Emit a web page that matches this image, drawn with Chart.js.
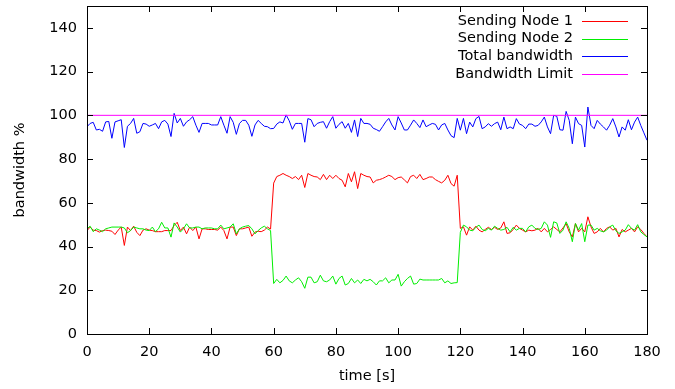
<!DOCTYPE html>
<html>
<head>
<meta charset="utf-8">
<script src="https://cdn.jsdelivr.net/npm/chart.js@4.4.1/dist/chart.umd.min.js"></script>
<style>
  html, body { margin: 0; padding: 0; background: #fff; }
  #c { display: block; }
</style>
</head>
<body>
<canvas id="c" width="675" height="389"></canvas>
<script>
// time in seconds (one sample per second)
const times = Array.from({ length: 181 }, (_, i) => i);

const seriesNames = ['Sending Node 1', 'Sending Node 2', 'Total bandwidth', 'Bandwidth Limit'];

const node1 = [
  47.3, 48.9, 47.5, 47.3, 46.6, 47.3, 47.5, 47.3, 47, 45.5,
  47.5, 48.9, 40.5, 48.9, 47.3, 49.3, 46.5, 45, 47.5, 48.1,
  47.5, 47.3, 46.8, 46.8, 46.8, 47.3, 47.3, 47.3, 49.6, 51.1,
  47.3, 48.9, 45.8, 48.9, 47.3, 48.9, 43.5, 48.1, 48.1, 47.8,
  47.8, 47.8, 47.5, 48.9, 47.3, 43.5, 48.9, 48.9, 45, 48.1,
  48.1, 48.5, 48.9, 44.7, 46.6, 47, 46.8, 47.5, 48.9, 48,
  69, 72, 72.6, 73.4, 72.6, 72, 71.1, 72, 70.6, 72.6,
  67, 73.4, 72.6, 72, 71.8, 70.6, 73, 70.6, 72.6, 71.1,
  72.6, 71.1, 70.3, 67.3, 73.4, 69.6, 74.2, 66.5, 73.4, 72.6,
  72, 71.8, 69.1, 70.3, 70.6, 71.1, 71.8, 72.6, 72, 70.6,
  71.5, 71.8, 70.5, 69.1, 72, 72.6, 71.1, 73, 70.6, 71.1,
  71.8, 71.8, 70.6, 69.8, 69.1, 70.3, 72.6, 68.8, 67.6, 72.6,
  48.3, 49, 45.2, 49, 47.5, 49.3, 47.5, 46.7, 47.8, 48.8,
  47.8, 48.8, 47.8, 48.5, 51.3, 46, 46.3, 47.8, 49.8, 48.3,
  47.5, 46.7, 47.5, 47.2, 47.5, 48.3, 46.7, 48.3, 46.7, 47.8,
  49, 47.8, 46.7, 48.5, 50.5, 46.7, 44.4, 50.5, 46.7, 48.3,
  46.7, 53.6, 49, 46, 46.7, 48.3, 46.7, 48.3, 49, 47.5,
  48.3, 44.4, 47.8, 46.7, 47.5, 48.3, 46.7, 49, 47.8, 46,
  44.4
];

const node2 = [
  48.1, 49.3, 46.8, 48.1, 47.5, 46.8, 48.1, 48.5, 48.9, 48.9,
  48.9, 48.9, 48.5, 46.3, 47.3, 48.9, 48.5, 48.1, 48.1, 47.5,
  47.3, 48.9, 46.8, 48.1, 51.1, 48.5, 48.5, 44.3, 50.8, 48.9,
  46.6, 48.1, 50.4, 48.5, 48.5, 48.9, 48.9, 48.1, 48.5, 48.5,
  48.5, 48.1, 48.1, 49.8, 48.1, 48.5, 48.9, 50.4, 45.8, 48.1,
  48.9, 49.3, 49.6, 48.1, 45.8, 47.3, 48.5, 49.3, 48.1, 47.3,
  23.1, 25, 23.4, 24.5, 26.5, 24.3, 23.4, 24.7, 25.7, 23.9,
  20.9, 26, 26, 23.4, 23.9, 26.9, 24.3, 23.9, 24.7, 26.5,
  22.8, 25.4, 26.5, 22.4, 23.1, 25.4, 23.4, 24.7, 23.1, 25,
  24.3, 25, 23.9, 22.4, 24.3, 24.3, 25.7, 23.4, 24.7, 24.7,
  27.3, 21.9, 23.9, 25.4, 26.5, 22.8, 23.1, 25.1, 24.7, 24.7,
  24.7, 24.7, 24.7, 24.7, 25.4, 23.4, 24.3, 23.1, 23.4, 23.5,
  46.5, 49.8, 49, 47.5, 47.2, 48.8, 49.8, 47.8, 47.2, 48.3,
  47.5, 49.3, 48.3, 47.5, 47.8, 48.8, 46.7, 48.8, 47.5, 48.3,
  48.3, 46.7, 49, 49.8, 48.3, 47.8, 48.3, 51.3, 49.8, 44.2,
  51.3, 50.8, 46, 47.5, 51.3, 48.3, 42.2, 50.5, 47.5, 50.5,
  42.2, 49.8, 49.8, 47.5, 48.3, 47.2, 46.7, 47.5, 49, 49.8,
  47.2, 46, 46.7, 47.5, 50, 48.3, 47.5, 50, 46.7, 45.5,
  44.4
];

const total = [
  94.8, 96.3, 96.8, 93.3, 93.6, 92.7, 97, 97.2, 89.5, 97,
  97.5, 98, 85.3, 95, 96.3, 98.6, 91.8, 92.5, 96.3, 96,
  95, 95.6, 96.3, 93.9, 97, 97.7, 96, 90.3, 100.9, 96.5,
  98.6, 95, 97, 98, 99.4, 95.5, 92.2, 96.3, 96.3, 96.3,
  95.6, 95.6, 95.6, 99.4, 95.5, 91.8, 99.4, 96.8, 91.3, 96.3,
  97.7, 97.7, 95.5, 90.4, 95.6, 97.7, 96.3, 95, 94.8, 93.9,
  94, 96, 97, 96.5, 100.2, 97.5, 93.6, 96.3, 96.3, 96.3,
  87.7, 98.5, 98, 94.8, 96.3, 96.8, 97.1, 94.1, 97.1, 99.4,
  94.1, 95.9, 97.1, 94.1, 96.3, 92.2, 97.9, 90.3, 98.6, 96.3,
  96.3, 95.9, 94.1, 93.5, 92.7, 94.8, 97, 98.6, 95.6, 93.3,
  99.4, 96.5, 93.3, 93.3, 95.5, 97.9, 96.3, 94.4, 97.9, 94.8,
  95.6, 96.3, 95.9, 93.3, 95.6, 96.3, 93.3, 90.7, 89.8, 98.6,
  93.2, 98.6, 91.6, 96.9, 94.7, 98.5, 99.5, 93.9, 94.7, 96.2,
  95, 96.2, 96.9, 93.4, 99.2, 93.9, 94.7, 93.9, 98.5, 96,
  95.4, 93.9, 96, 96, 95, 95.4, 97, 99.2, 94.7, 91.6,
  100, 99.6, 93.4, 93.2, 101.8, 97.7, 87, 99.2, 96.2, 95.4,
  85.5, 103.8, 95.4, 93.9, 97.7, 96, 94.7, 93.2, 95.5, 98.5,
  94.7, 90.1, 94.7, 93.2, 98, 93.4, 96.9, 99.2, 95.4, 92,
  88.6
];

const limitTimes = [0, 180];
const limitValues = [100, 100];

const xTicks = [0, 20, 40, 60, 80, 100, 120, 140, 160, 180];
const yTicks = [0, 20, 40, 60, 80, 100, 120, 140];

const colors = ['#ff0000', '#00ee00', '#0000ff', '#ff00ff'];
const FONT = 'DejaVu Sans';

function pts(xs, ys) { return ys.map((v, i) => ({ x: xs[i], y: v })); }

// Inward tick marks + full frame (gnuplot style)
const framePlugin = {
  id: 'frame',
  afterDatasetsDraw(chart) {
    const { ctx, chartArea: a, scales } = chart;
    const L = 6;
    ctx.save();
    ctx.strokeStyle = '#000';
    ctx.lineWidth = 1;
    ctx.beginPath();
    yTicks.forEach(v => {
      const y = Math.round(scales.y.getPixelForValue(v)) + 0.5;
      ctx.moveTo(a.left, y); ctx.lineTo(a.left + L, y);
      ctx.moveTo(a.right, y); ctx.lineTo(a.right - L, y);
    });
    xTicks.forEach(v => {
      const x = Math.round(scales.x.getPixelForValue(v)) + 0.5;
      ctx.moveTo(x, a.bottom); ctx.lineTo(x, a.bottom - L);
      ctx.moveTo(x, a.top); ctx.lineTo(x, a.top + L);
    });
    ctx.stroke();
    ctx.strokeRect(Math.round(a.left) + 0.5, Math.round(a.top) + 0.5,
                   Math.round(a.right - a.left), Math.round(a.bottom - a.top));
    ctx.restore();
  }
};

// Legend in the top-right corner: text right-aligned, line sample to its right
const keyPlugin = {
  id: 'key',
  afterDraw(chart) {
    const { ctx, chartArea: a } = chart;
    ctx.save();
    ctx.font = '14.5px "' + FONT + '"';
    ctx.textAlign = 'right';
    ctx.textBaseline = 'middle';
    chart.data.datasets.forEach((ds, i) => {
      const y = a.top + 15 + i * 17.6;
      ctx.fillStyle = '#000';
      ctx.fillText(ds.label, a.right - 74, y);
      ctx.strokeStyle = ds.borderColor;
      ctx.lineWidth = 1;
      ctx.beginPath();
      ctx.moveTo(a.right - 65, Math.round(y) + 0.5);
      ctx.lineTo(a.right - 19, Math.round(y) + 0.5);
      ctx.stroke();
    });
    ctx.restore();
  }
};

const lineDs = (label, data, color, order) => ({
  label, data, borderColor: color, backgroundColor: color,
  borderWidth: 1, pointRadius: 0, tension: 0, fill: false, order
});

new Chart(document.getElementById('c'), {
  type: 'line',
  data: {
    datasets: [
      lineDs(seriesNames[0], pts(times, node1), colors[0], 4),
      lineDs(seriesNames[1], pts(times, node2), colors[1], 3),
      lineDs(seriesNames[2], pts(times, total), colors[2], 2),
      lineDs(seriesNames[3], pts(limitTimes, limitValues), colors[3], 1)
    ]
  },
  options: {
    responsive: false,
    animation: false,
    devicePixelRatio: 1,
    layout: { padding: { top: 6, right: 28, left: 0, bottom: 0 } },
    plugins: { legend: { display: false }, tooltip: { enabled: false } },
    scales: {
      x: {
        type: 'linear', min: 0, max: 180,
        grid: { display: true, drawOnChartArea: false, drawTicks: false },
        border: { display: false },
        ticks: { stepSize: 20, padding: 10, color: '#000', maxRotation: 0,
                 font: { family: FONT, size: 14.5 } },
        title: { display: true, text: 'time [s]', color: '#000', padding: { top: 4, bottom: 4 },
                 font: { family: FONT, size: 14.5 } },
        afterFit(s) { s.height = 55; s.paddingLeft = 0; s.paddingRight = 0; }
      },
      y: {
        type: 'linear', min: 0, max: 150,
        grid: { display: true, drawOnChartArea: false, drawTicks: false },
        border: { display: false },
        ticks: { stepSize: 20, includeBounds: false, padding: 10, color: '#000',
                 font: { family: FONT, size: 14.5 } },
        title: { display: true, text: 'bandwidth %', color: '#000', padding: { top: 12, bottom: 0 },
                 font: { family: FONT, size: 14.5 } },
        afterFit(s) { s.width = 87; s.paddingTop = 0; s.paddingBottom = 0; }
      }
    }
  },
  plugins: [framePlugin, keyPlugin]
});
</script>
</body>
</html>
